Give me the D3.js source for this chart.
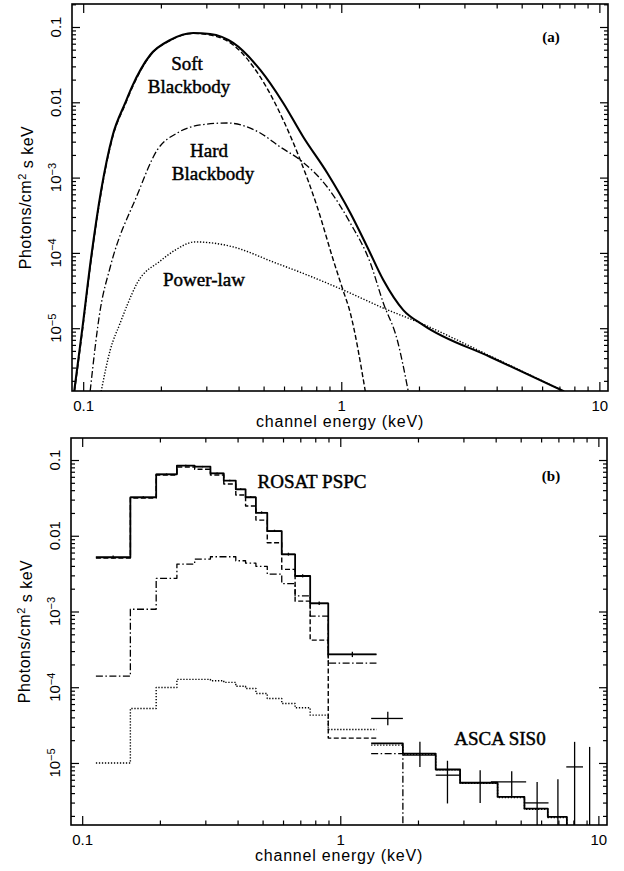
<!DOCTYPE html>
<meta charset="utf-8">
<script src="https://cdn.jsdelivr.net/npm/d3@7"></script>
<style>
  body { margin: 0; background: #fff; }
</style>
<div id="chart"></div>
<script>

// ---------- panel (a): model curves, [energy keV, photons/cm2/s/keV] ----------
var totalA = [[0.0923,1.45e-6],[0.0991,9.5e-6],[0.1074,8.8e-5],[0.1174,6.8e-4],[0.1300,3.6e-3],
  [0.1455,9.8e-3],[0.1545,0.0160],[0.1818,0.0425],[0.2174,0.0672],[0.2669,0.0832],[0.3106,0.0807],
  [0.3814,0.0614],[0.4853,0.0269],[0.5957,9.8e-3],[0.7125,3.46e-3],[0.8824,1.15e-3],[1.084,3.39e-4],
  [1.261,1.20e-4],[1.455,4.36e-5],[1.739,1.74e-5],[2.079,1.10e-5],[3.78,4.15e-6],[7.3,1.45e-6]];
var softA = [[0.0925,1.45e-6],[0.0993,9.3e-6],[0.1076,8.6e-5],[0.1176,6.6e-4],[0.1302,3.5e-3],
  [0.1457,9.5e-3],[0.1547,0.0155],[0.1820,0.0418],[0.2176,0.0664],[0.2669,0.0822],[0.3106,0.0783],
  [0.3814,0.0577],[0.4853,0.0217],[0.5957,5.82e-3],[0.6937,1.71e-3],[0.8071,4.07e-4],[0.9312,8.05e-5],
  [1.009,3.42e-5],[1.084,1.59e-5],[1.239,1.45e-6]];
var hardA = [[0.1064,1.45e-6],[0.1164,1.75e-5],[0.1273,6.5e-5],[0.1619,5.87e-4],[0.1936,2.33e-3],
  [0.2313,3.91e-3],[0.2841,5.0e-3],[0.3614,5.31e-3],[0.4853,3.91e-3],[0.5801,2.55e-3],[0.6937,1.71e-3],
  [0.8824,7.5e-4],[1.084,2.49e-4],[1.296,7.35e-5],[1.455,2.16e-5],[1.648,6.97e-6],[1.818,1.45e-6]];
var powA = [[0.1174,1.45e-6],[0.1273,5.13e-6],[0.1391,1.17e-5],[0.1481,2.03e-5],[0.1619,3.98e-5],
  [0.1988,7.80e-5],[0.2273,1.09e-4],[0.2717,1.40e-4],[0.3814,1.20e-4],[0.5448,7.57e-5],[0.7381,5.09e-5],
  [1.018,3.21e-5],[1.455,1.85e-5],[2.024,1.17e-5],[3.78,4.27e-6],[7.3,1.45e-6]];

// ---------- panel (b): ROSAT PSPC channels ----------
var rosatEdges = [0.113,0.1537,0.1935,0.2328,0.2728,0.3140,0.3537,0.3937,0.4296,0.4711,0.5213,0.5932,0.6683,0.7644,0.8982,1.381];
var rosatTotal = [5.19e-3,0.0322,0.0647,0.0841,0.0816,0.0667,0.0533,0.0410,0.0322,0.0201,0.01154,5.68e-3,2.94e-3,1.28e-3,2.71e-4];
var rosatSoft  = [5.07e-3,0.0315,0.0634,0.0808,0.0754,0.0634,0.0482,0.0345,0.0247,0.0161,8.08e-3,3.60e-3,1.37e-3,4.19e-4,2.13e-5];
var rosatHard  = [1.40e-4,1.07e-3,2.74e-3,4.23e-3,4.92e-3,5.28e-3,5.28e-3,4.68e-3,4.35e-3,3.95e-3,3.12e-3,2.34e-3,1.61e-3,8.7e-4,2.08e-4];
var rosatPow   = [1.00e-5,5.25e-5,9.94e-5,1.27e-4,1.27e-4,1.22e-4,1.16e-4,1.03e-4,9.64e-5,8.28e-5,7.11e-5,6.11e-5,5.35e-5,4.28e-5,2.77e-5];
var rosatData  = [5.25e-3,0.0324,0.0650,0.0846,0.0818,0.0668,0.0536,0.0412,0.0326,0.0203,0.0116,5.72e-3,2.96e-3,1.29e-3,2.72e-4];
var rosatErr   = [2.5e-4,9e-4,1.5e-3,1.8e-3,1.8e-3,1.5e-3,1.3e-3,1.1e-3,1.0e-3,7e-4,4e-4,2.5e-4,1.4e-4,7e-5,2.2e-5];

// ---------- panel (b): ASCA SIS0 ----------
var ascaEdges = [1.317,1.748,2.343,2.912,4.07,5.17,6.37,7.55,9.23];
var ascaTotal = [1.81e-5,1.33e-5,8.2e-6,5.46e-6,3.56e-6,2.50e-6,1.94e-6,1.0e-6];
var ascaPow   = [1.72e-5,1.30e-5,8.1e-6,5.4e-6,3.5e-6,2.45e-6,1.9e-6,1.0e-6];
var ascaHard  = [1.33e-5,1e-7];
var ascaE     = [1.528,2.035,2.602,3.483,4.616,5.79,6.97,8.09,9.25];
var ascaElo   = [1.317,1.748,2.343,2.912,3.834,5.20,6.97,7.51,9.25];
var ascaEhi   = [1.748,2.343,2.912,4.07,5.25,6.41,6.97,8.72,9.25];
var ascaFlux  = [3.87e-5,1.27e-5,6.90e-6,5.52e-6,5.62e-6,2.97e-6,1.0e-6,8.87e-6,1.0e-6];
var ascaLo    = [3.15e-5,8.87e-6,2.92e-6,2.97e-6,3.67e-6,1e-7,1e-7,1e-7,1e-7];
var ascaHi    = [4.73e-5,1.90e-5,1.07e-5,8.03e-6,7.80e-6,5.62e-6,6.1e-6,1.90e-5,1.63e-5];

// axis tick labels
var xTickText = ["0.1","1","10"];
var yTickVals = [0.1,0.01,1e-3,1e-4,1e-5];
var yTickBase = ["0.1","0.01","10","10","10"];
var yTickExp  = ["","","\u22123","\u22124","\u22125"];

var W = 624, H = 871;
var xDomain = [0.0905, 10.8];
var sans = "'Liberation Sans', Arial, Helvetica, sans-serif";
var serif = "'Liberation Serif', 'Times New Roman', serif";

var svg = d3.select("#chart").append("svg")
  .attr("width", W).attr("height", H)
  .style("background", "#fff");

var styles = {
  total: {w: 2.1, dash: null},
  soft:  {w: 1.4, dash: "5,2.5"},
  hard:  {w: 1.3, dash: "7,2.5,1.5,2.5"},
  pow:   {w: 1.4, dash: "1.3,1.7"}
};

function isMajor(v) { var l = Math.log10(v); return Math.abs(l - Math.round(l)) < 1e-6; }

function drawPanel(id, left, top, yDomain) {
  var w = 536, h = 387;
  var g = svg.append("g").attr("transform", "translate(" + left + "," + top + ")");
  var x = d3.scaleLog().domain(xDomain).range([0, w]);
  var y = d3.scaleLog().domain(yDomain).range([h, 0]);

  g.append("clipPath").attr("id", id).append("rect").attr("width", w).attr("height", h);

  var xMaj = x.ticks().filter(isMajor);
  var xMin = x.ticks().filter(function(v) { return !isMajor(v); });
  var yMaj = y.ticks().filter(isMajor);
  var yMin = y.ticks().filter(function(v) { return !isMajor(v); });

  function clean(sel) {
    sel.select(".domain").remove();
    sel.selectAll("line").attr("stroke", "#000").attr("stroke-width", 1.2);
  }

  // bottom (with labels)
  g.append("g").attr("transform", "translate(0," + h + ")")
    .call(d3.axisBottom(x).tickValues(xMaj).tickSize(-9).tickPadding(9)
      .tickFormat(function(d, i) { return xTickText[i]; }))
    .call(clean)
    .attr("font-family", sans).attr("font-size", 15)
    .selectAll("text").attr("fill", "#000");
  g.append("g").attr("transform", "translate(0," + h + ")")
    .call(d3.axisBottom(x).tickValues(xMin).tickSize(-4.5).tickFormat("")).call(clean);
  // top
  g.append("g").call(d3.axisTop(x).tickValues(xMaj).tickSize(-9).tickFormat("")).call(clean);
  g.append("g").call(d3.axisTop(x).tickValues(xMin).tickSize(-4.5).tickFormat("")).call(clean);
  // left / right
  g.append("g").call(d3.axisLeft(y).tickValues(yMaj).tickSize(-8).tickFormat("")).call(clean);
  g.append("g").call(d3.axisLeft(y).tickValues(yMin).tickSize(-4).tickFormat("")).call(clean);
  g.append("g").attr("transform", "translate(" + w + ",0)")
    .call(d3.axisRight(y).tickValues(yMaj).tickSize(-8).tickFormat("")).call(clean);
  g.append("g").attr("transform", "translate(" + w + ",0)")
    .call(d3.axisRight(y).tickValues(yMin).tickSize(-4).tickFormat("")).call(clean);

  // rotated y tick labels
  yTickVals.forEach(function(v, i) {
    var t = g.append("text")
      .attr("transform", "translate(-11," + y(v) + ") rotate(-90)")
      .attr("text-anchor", "middle")
      .attr("font-family", sans).attr("font-size", 15);
    t.append("tspan").text(yTickBase[i]);
    if (yTickExp[i]) t.append("tspan").attr("dy", "-0.5em").attr("font-size", 11).text(yTickExp[i]);
  });

  // axis titles
  g.append("text")
    .attr("x", w / 2).attr("y", h + 36)
    .attr("text-anchor", "middle")
    .attr("font-family", sans).attr("font-size", 16)
    .attr("letter-spacing", 0.8)
    .text("channel energy (keV)");

  var yt = g.append("text")
    .attr("transform", "translate(-41," + (h / 2) + ") rotate(-90)")
    .attr("text-anchor", "middle")
    .attr("font-family", sans).attr("font-size", 16)
    .attr("letter-spacing", 0.5);
  yt.append("tspan").text("Photons/cm");
  yt.append("tspan").attr("dy", "-0.45em").attr("font-size", 11).text("2");
  yt.append("tspan").attr("dy", "0.45em").text(" s keV");

  // frame
  g.append("rect").attr("width", w).attr("height", h)
    .attr("fill", "none").attr("stroke", "#000").attr("stroke-width", 1.6);

  var plot = g.append("g").attr("clip-path", "url(#" + id + ")");
  return {x: x, y: y, plot: plot};
}

function addPath(p, pts, st, curve) {
  var line = d3.line()
    .x(function(d) { return p.x(d[0]); })
    .y(function(d) { return p.y(d[1]); });
  if (curve) line.curve(curve);
  p.plot.append("path").datum(pts)
    .attr("fill", "none").attr("stroke", "#000")
    .attr("stroke-width", st.w)
    .attr("stroke-dasharray", st.dash)
    .attr("stroke-linejoin", "round")
    .attr("d", line);
}

function steps(edges, vals) {
  var pts = [];
  vals.forEach(function(v, i) {
    pts.push([edges[i], v]);
    pts.push([edges[i + 1], v]);
  });
  return pts;
}

// ---------- panel (a) ----------
var pa = drawPanel("clipA", 72, 4, [1.466e-6, 0.202]);
addPath(pa, powA, styles.pow, d3.curveMonotoneX);
addPath(pa, hardA, styles.hard, d3.curveMonotoneX);
addPath(pa, softA, styles.soft, d3.curveMonotoneX);
addPath(pa, totalA, styles.total, d3.curveMonotoneX);

// ---------- panel (b) ----------
var pb = drawPanel("clipB", 71, 438, [1.517e-6, 0.1953]);
addPath(pb, steps(rosatEdges, rosatPow), styles.pow);
addPath(pb, steps(rosatEdges, rosatHard), styles.hard);
addPath(pb, steps(rosatEdges, rosatSoft), styles.soft);
addPath(pb, steps(rosatEdges, rosatTotal), {w: 1.8, dash: null});
addPath(pb, steps(ascaEdges, ascaPow), styles.pow);
addPath(pb, steps(ascaEdges.slice(0, 3), ascaHard), styles.hard);
addPath(pb, steps(ascaEdges, ascaTotal), {w: 1.8, dash: null});

// ROSAT data crosses
rosatData.forEach(function(v, i) {
  var lo = rosatEdges[i], hi = rosatEdges[i + 1], c = Math.sqrt(lo * hi);
  pb.plot.append("line")
    .attr("x1", pb.x(lo)).attr("x2", pb.x(hi))
    .attr("y1", pb.y(v)).attr("y2", pb.y(v))
    .attr("stroke", "#000").attr("stroke-width", 1);
  pb.plot.append("line")
    .attr("x1", pb.x(c)).attr("x2", pb.x(c))
    .attr("y1", pb.y(v - rosatErr[i])).attr("y2", pb.y(v + rosatErr[i]))
    .attr("stroke", "#000").attr("stroke-width", 1.3);
});

// ASCA data crosses
ascaE.forEach(function(e, i) {
  pb.plot.append("line")
    .attr("x1", pb.x(ascaElo[i])).attr("x2", pb.x(ascaEhi[i]))
    .attr("y1", pb.y(ascaFlux[i])).attr("y2", pb.y(ascaFlux[i]))
    .attr("stroke", "#000").attr("stroke-width", 1.3);
  pb.plot.append("line")
    .attr("x1", pb.x(e)).attr("x2", pb.x(e))
    .attr("y1", pb.y(ascaLo[i])).attr("y2", pb.y(ascaHi[i]))
    .attr("stroke", "#000").attr("stroke-width", 1.3);
});

// ---------- annotations ----------
var notes = [
  {t: "Soft", x: 187, y: 70},
  {t: "Blackbody", x: 189, y: 93},
  {t: "Hard", x: 209, y: 157},
  {t: "Blackbody", x: 213, y: 180},
  {t: "Power-law", x: 204, y: 286},
  {t: "ROSAT PSPC", x: 312, y: 488},
  {t: "ASCA SIS0", x: 500, y: 745}
];
svg.selectAll("text.note").data(notes).enter().append("text")
  .attr("class", "note")
  .attr("x", function(d) { return d.x; })
  .attr("y", function(d) { return d.y; })
  .attr("text-anchor", "middle")
  .attr("font-family", serif).attr("font-size", 19)
  .attr("stroke", "#000").attr("stroke-width", 0.45)
  .text(function(d) { return d.t; });

svg.append("text").attr("x", 551).attr("y", 42).attr("text-anchor", "middle")
  .attr("font-family", serif).attr("font-size", 15).attr("font-weight", "bold").text("(a)");
svg.append("text").attr("x", 551).attr("y", 481).attr("text-anchor", "middle")
  .attr("font-family", serif).attr("font-size", 15).attr("font-weight", "bold").text("(b)");

</script>
